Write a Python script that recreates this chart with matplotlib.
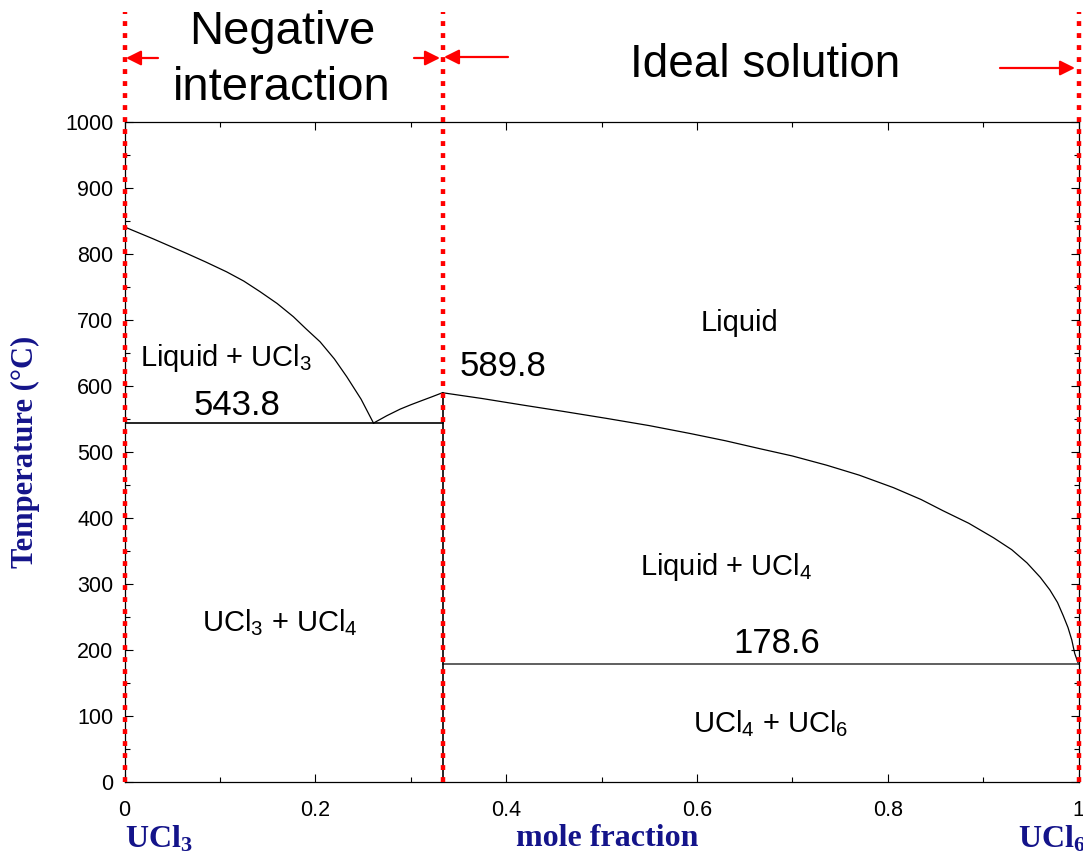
import matplotlib
matplotlib.use("Agg")
import matplotlib.pyplot as plt
from matplotlib.patches import FancyArrowPatch
from matplotlib.ticker import MultipleLocator

plt.rcParams['font.family'] = ['Liberation Sans', 'DejaVu Sans']
plt.rcParams['mathtext.default'] = 'regular'

# ---- data ----
left_liq_x = [0.0, 0.03, 0.065, 0.085, 0.107, 0.125, 0.142, 0.16, 0.177, 0.19,
              0.205, 0.22, 0.233, 0.248, 0.261]
left_liq_T = [841, 823, 801, 788, 773, 759, 743, 725, 705, 687,
              667, 641, 614, 580, 543.8]
mid_liq_x = [0.261, 0.275, 0.289, 0.300, 0.310, 0.322, 0.3333]
mid_liq_T = [543.8, 555, 565, 571.5, 577, 583.5, 589.8]
right_liq_x = [0.3333, 0.375, 0.418, 0.46, 0.505, 0.55, 0.593, 0.63, 0.666, 0.70,
               0.736, 0.77, 0.806, 0.835, 0.858, 0.885, 0.911, 0.93, 0.946, 0.96,
               0.970, 0.978, 0.984, 0.989, 0.993, 0.996, 1.0]
right_liq_T = [589.8, 581, 571, 561.5, 551, 540, 528, 517, 505, 494,
               480, 465, 446, 428, 411, 392, 370, 352, 332, 310,
               291, 272, 252, 234, 215, 195, 178.6]
eut1_T = 543.8
eut2_T = 178.6
peak_T = 589.8
x_ucl4 = 1/3
boundaries = [0.0, 1/3, 1.0]

x_ticks = [0, 0.2, 0.4, 0.6, 0.8, 1]
x_ticklabels = ['0', '0.2', '0.4', '0.6', '0.8', '1']
y_ticks = list(range(0, 1001, 100))

W, H = 1083, 856
fig = plt.figure(figsize=(W/100, H/100), dpi=100)
ax = fig.add_axes([124.5/W, 1-782/H, (1078.5-124.5)/W, (782-122)/H])
ax.set_xlim(0, 1)
ax.set_ylim(0, 1000)

lc = 'black'
ax.plot(left_liq_x, left_liq_T, color=lc, lw=0.9)
ax.plot(mid_liq_x, mid_liq_T, color=lc, lw=0.9)
ax.plot(right_liq_x, right_liq_T, color=lc, lw=0.9)
ax.plot([0, x_ucl4], [eut1_T, eut1_T], color=lc, lw=1.2)
ax.plot([x_ucl4, 1], [eut2_T, eut2_T], color='#444444', lw=1.2)
ax.plot([x_ucl4, x_ucl4], [0, peak_T], color=lc, lw=1.2)

# red dotted boundaries
top_T = (782-12)/0.66
for xb in boundaries:
    ax.plot([xb, xb], [0, top_T], color='red', lw=3.2,
            linestyle=(0, (1.1, 1.6)), clip_on=False, zorder=5)

# arrows (figure pixel coords)
def px(xp, yp):
    return (xp/W, 1-yp/H)

for (x0, y0, x1, y1) in [(158, 58, 126, 58), (414, 58, 440, 58),
                         (508, 57, 444, 57), (1000, 68, 1075, 68)]:
    fig.add_artist(FancyArrowPatch(px(x0, y0), px(x1, y1),
                   transform=fig.transFigure,
                   arrowstyle='-|>,head_length=0.9,head_width=0.45',
                   mutation_scale=10, color='red', lw=1.6,
                   shrinkA=0, shrinkB=0))

# header texts
fig.text(282/W, 1-32/H, 'Negative', ha='center', va='center', fontsize=34)
fig.text(282/W, 1-88/H, 'interaction', ha='center', va='center', fontsize=34)
fig.text(765/W, 1-65/H, 'Ideal solution', ha='center', va='center', fontsize=33)

# region labels
ax.text(0.107, 642, 'Liquid + UCl$_3$', ha='center', va='center', fontsize=21)
ax.text(0.118, 571, '543.8', ha='center', va='center', fontsize=25)
ax.text(0.397, 629, '589.8', ha='center', va='center', fontsize=25)
ax.text(0.645, 695, 'Liquid', ha='center', va='center', fontsize=21)
ax.text(0.631, 326, 'Liquid + UCl$_4$', ha='center', va='center', fontsize=21)
ax.text(0.684, 210, '178.6', ha='center', va='center', fontsize=25)
ax.text(0.677, 89, 'UCl$_4$ + UCl$_6$', ha='center', va='center', fontsize=21)
ax.text(0.163, 242, 'UCl$_3$ + UCl$_4$', ha='center', va='center', fontsize=21)

# ticks
ax.set_xticks(x_ticks)
ax.set_xticklabels(x_ticklabels)
ax.set_yticks(y_ticks)
ax.xaxis.set_minor_locator(MultipleLocator(0.1))
ax.yaxis.set_minor_locator(MultipleLocator(50))
ax.tick_params(which='both', direction='in', top=True, right=True, labelsize=15.5)
ax.tick_params(which='major', length=6, width=0.8)
ax.tick_params(which='minor', length=3.5, width=0.8)
ax.tick_params(axis='x', pad=13)
ax.tick_params(axis='y', pad=8)
for s in ax.spines.values():
    s.set_linewidth(0.9)

navy = '#14148a'
serif = ['Liberation Serif', 'DejaVu Serif']
ax.set_ylabel('Temperature (\u00b0C)', family=serif, fontweight='bold', color=navy,
              fontsize=22, labelpad=18)
fig.text(607/W, 1-838/H, 'mole fraction', family=serif, fontweight='bold', color=navy,
         fontsize=23, ha='center', va='center')
fig.text(125/W, 1-847/H, 'UCl$_3$', family=serif, fontweight='bold', color=navy,
         fontsize=23, ha='left', va='baseline')
fig.text(1018/W, 1-847/H, 'UCl$_6$', family=serif, fontweight='bold', color=navy,
         fontsize=23, ha='left', va='baseline')

fig.savefig('out.png', dpi=100)
